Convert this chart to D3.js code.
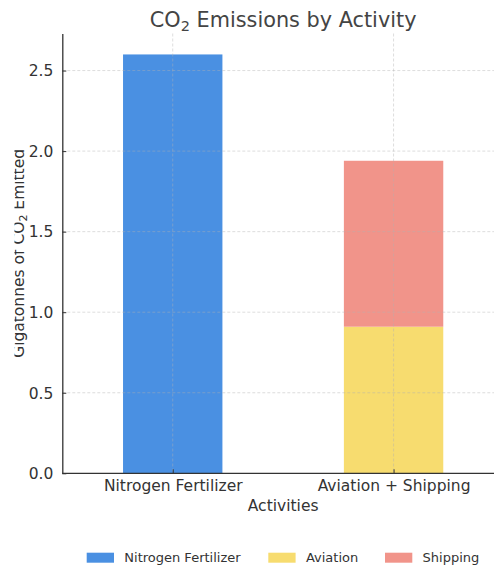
<!DOCTYPE html>
<html><head><meta charset="utf-8">
<script src="https://cdn.jsdelivr.net/npm/d3@7"></script>
<style>
body{margin:0;background:#fff;}
text{font-family:"DejaVu Sans",sans-serif;fill:#333;}
</style></head>
<body><svg id="c" width="494" height="567"></svg>
<script>
const categories = ["Nitrogen Fertilizer", "Aviation + Shipping"];
const nitrogen = [2.6, 0];
const aviation = [0, 0.91];
const shipping = [0, 1.03];
const yTicks = [0, 0.5, 1.0, 1.5, 2.0, 2.5];
const seriesNames = ["Nitrogen Fertilizer", "Aviation", "Shipping"];
const colors = ["#4a90e2", "#f7dc6f", "#f1948a"];

const svg = d3.select("#c");
const L = 62.3, R = 504, T = 33.5, B = 473.3;

const x = d3.scalePoint().domain(categories).range([L, R]).padding(0.5);
const step = x.step();
const barW = 0.45 * step;
const y = d3.scaleLinear().domain([0, 2.73]).range([B, T]);

const rows = categories.map((c, i) => ({cat: c, n: nitrogen[i], a: aviation[i], s: shipping[i]}));
const stack = d3.stack().keys(["n", "a", "s"])(rows);

stack.forEach((layer, li) => {
  svg.append("g").selectAll("rect").data(layer.filter(d => d[1] - d[0] > 0)).join("rect")
    .attr("x", d => x(d.data.cat) - barW / 2)
    .attr("width", barW)
    .attr("y", d => y(d[1]))
    .attr("height", d => y(d[0]) - y(d[1]))
    .attr("fill", colors[li]);
});

const grid = svg.append("g").attr("stroke", "#b0b0b0").attr("stroke-opacity", 0.55)
  .attr("stroke-dasharray", "3,2").attr("stroke-width", 0.8);
grid.selectAll(".h").data(yTicks.filter(t => t > 0)).join("line")
  .attr("x1", L).attr("x2", R).attr("y1", d => y(d)).attr("y2", d => y(d));
grid.selectAll(".v").data(categories).join("line")
  .attr("x1", d => x(d)).attr("x2", d => x(d)).attr("y1", T).attr("y2", B);

const yAxis = svg.append("g").attr("transform", `translate(${L},0)`)
  .call(d3.axisLeft(y).tickValues(yTicks).tickFormat(d3.format(".1f")).tickSizeInner(-4).tickSizeOuter(0).tickPadding(9));
const xAxis = svg.append("g").attr("transform", `translate(0,${B})`)
  .call(d3.axisBottom(x).tickSizeInner(-4).tickSizeOuter(0).tickPadding(9));
[yAxis, xAxis].forEach(a => {
  a.select(".domain").attr("stroke", "#333").attr("stroke-width", 1.3);
  a.selectAll(".tick line").attr("stroke", "#333").attr("stroke-width", 1);
  a.selectAll(".tick text").attr("font-size", 15.5).attr("fill", "#333")
    .style("font-family", '"DejaVu Sans", sans-serif');
});
xAxis.select(".domain").attr("d", `M${L},0H${R}`);
yAxis.selectAll(".tick text").attr("dy", "0.34em");
xAxis.selectAll(".tick text").attr("dy", null).attr("y", 18);

const title = svg.append("text").attr("x", (L + R) / 2).attr("y", 26.7)
  .attr("text-anchor", "middle").attr("font-size", 20.8).style("fill", "#444");
title.append("tspan").text("CO");
title.append("tspan").text("2").attr("font-size", 14.5).attr("dy", 4);
title.append("tspan").text(" Emissions by Activity").attr("dy", -4);

svg.append("text").attr("x", (L + R) / 2).attr("y", 511.3).attr("text-anchor", "middle")
  .attr("font-size", 15.5).text("Activities");

svg.append("defs").append("clipPath").attr("id", "ylc").append("rect")
  .attr("x", 14.5).attr("y", 0).attr("width", 40).attr("height", 567);
const ylg = svg.append("g").attr("clip-path", "url(#ylc)");
const yl = ylg.append("text")
  .attr("transform", `translate(24,${(T + B) / 2}) rotate(-90)`)
  .attr("text-anchor", "middle").attr("font-size", 15.5);
yl.append("tspan").text("Gigatonnes of CO");
yl.append("tspan").text("2").attr("font-size", 11).attr("dy", 3);
yl.append("tspan").text(" Emitted").attr("dy", -3);

const legendX = [86.7, 268.3, 385];
const lg = svg.append("g");
seriesNames.forEach((n, i) => {
  lg.append("rect").attr("x", legendX[i]).attr("y", 552.7).attr("width", 27.3).attr("height", 10).attr("fill", colors[i]);
  lg.append("text").attr("x", legendX[i] + 37.6).attr("y", 562.2).attr("font-size", 13).text(n);
});
</script></body></html>
